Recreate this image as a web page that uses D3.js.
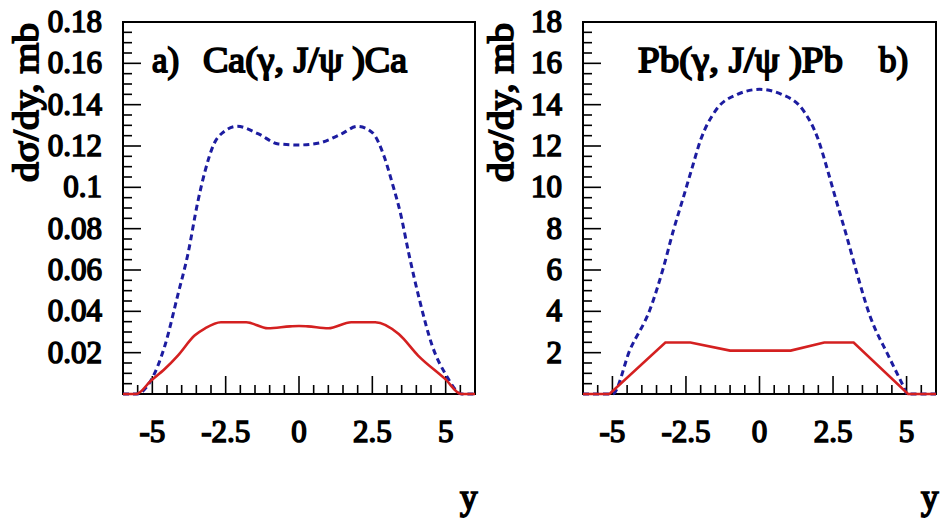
<!DOCTYPE html>
<html>
<head>
<meta charset="utf-8">
<script src="https://cdn.jsdelivr.net/npm/d3@7"></script>
<style>
  body { margin: 0; background: #fff; }
</style>
</head>
<body>
<svg></svg>
<script>
const width = 946;
const height = 522;
// only the regular serif face is available, so bold is faked with a thin stroke
const serif = "Liberation Serif";

// panel a) Ca
var caRapidity = [-6, -5.55, -5.05, -4.57, -4.13, -3.55, -3.2, -2.66, -1.8, -1.06, -0.3, 0, 0.3, 1.0, 1.78, 2.6, 3.4, 4.06, 4.98, 5.53, 6];
var caRed = [0, 0, 0.0064, 0.0122, 0.0186, 0.0284, 0.0318, 0.0347, 0.0347, 0.0318, 0.0327, 0.0329, 0.0327, 0.0318, 0.0347, 0.0347, 0.029, 0.0186, 0.0073, 0, 0];
var caBlueRapidity = [-6, -5.55, -5.05, -4.57, -4.13, -3.79, -3.45, -3.2, -2.9, -2.6, -2.1, -1.4, -0.7, 0, 0.7, 1.4, 2.0, 2.5, 2.9, 3.2, 3.45, 3.75, 4.1, 4.55, 5.0, 5.55, 6];
var caBlue = [0, 0, 0.0065, 0.0235, 0.048, 0.0675, 0.093, 0.108, 0.121, 0.1265, 0.1295, 0.126, 0.121, 0.1205, 0.1215, 0.1255, 0.1295, 0.1265, 0.115, 0.101, 0.088, 0.0675, 0.046, 0.023, 0.0095, 0, 0];

// panel b) Pb
var pbRedRapidity = [-6, -5.1, -3.2, -2.35, -1.0, 1.06, 2.2, 3.2, 5.05, 6];
var pbRed = [0, 0, 2.49, 2.49, 2.1, 2.1, 2.49, 2.49, 0, 0];
var pbBlueRapidity = [-6, -5.0, -4.4, -3.72, -3.28, -2.94, -2.6, -2.3, -2.0, -1.5, -0.75, 0, 0.75, 1.5, 2.0, 2.3, 2.6, 2.95, 3.3, 3.75, 4.4, 4.9, 5.02, 6];
var pbBlue = [0, 0, 2.15, 4.1, 6.05, 7.85, 9.46, 10.9, 12.3, 13.7, 14.5, 14.74, 14.5, 13.7, 12.3, 10.9, 9.4, 7.7, 5.9, 3.8, 1.8, 0.35, 0, 0];

var xTickLabels = [-5, -2.5, 0, 2.5, 5];
var caYTicks = [0.02, 0.04, 0.06, 0.08, 0.1, 0.12, 0.14, 0.16, 0.18];
var pbYTicks = [2, 4, 6, 8, 10, 12, 14, 16, 18];

var svg = d3.select("svg");
svg.attr("width", width);
svg.attr("height", height);

function zip(xs, ys) {
  return xs.map((x, i) => [x, ys[i]]);
}

function label(g, size) {
  return g.append("text")
    .attr("font-family", serif)
    .attr("font-size", size)
    .attr("fill", "#000")
    .attr("stroke", "#000")
    .attr("stroke-width", size * 0.05);
}

function drawPanel(p) {
  var xScale = d3.scaleLinear().domain([-6, 6]).range([p.left, p.right]);
  var yScale = d3.scaleLinear().domain([0, p.ymax]).range([394, 22]);
  var g = svg.append("g");

  // frame
  g.append("rect")
    .attr("x", p.left).attr("y", 22)
    .attr("width", p.right - p.left).attr("height", 394 - 22)
    .attr("fill", "none").attr("stroke", "#000").attr("stroke-width", 2);

  // y ticks, minor every quarter of a major step
  var yMinor = d3.range(0, p.ymax + 1e-9, p.ystep / 4);
  g.selectAll(".ytick")
    .data(yMinor)
    .enter()
    .append("line")
    .attr("x1", p.left)
    .attr("x2", (d, i) => p.left + (i % 4 == 0 ? 18 : 9))
    .attr("y1", d => yScale(d)).attr("y2", d => yScale(d))
    .attr("stroke", "#000").attr("stroke-width", 1.6);

  // x ticks
  var xMinor = d3.range(-5.5, 5.51, 0.5);
  g.selectAll(".xtick")
    .data(xMinor)
    .enter()
    .append("line")
    .attr("x1", d => xScale(d)).attr("x2", d => xScale(d))
    .attr("y1", 394)
    .attr("y2", d => 394 - (Math.abs(d / 2.5 - Math.round(d / 2.5)) < 1e-6 ? 18 : 9))
    .attr("stroke", "#000").attr("stroke-width", 1.6);

  p.yTicks.forEach(d => {
    label(g, 31)
      .attr("x", p.left - 21)
      .attr("y", yScale(d) + 10)
      .attr("text-anchor", "end")
      .text(p.fmt(d));
  });

  xTickLabels.forEach(d => {
    label(g, 31)
      .attr("x", xScale(d))
      .attr("y", 442)
      .attr("text-anchor", "middle")
      .text((d < 0 ? "-" : "") + Math.abs(d));
  });

  // axis titles
  label(g, 35)
    .attr("transform", 'translate(' + p.ylabelX + ',23) rotate(-90)')
    .attr("text-anchor", "end")
    .attr("textLength", 159)
    .attr("lengthAdjust", "spacingAndGlyphs")
    .text("d\u03c3/dy, mb");

  label(g, 35)
    .attr("x", p.right - 15).attr("y", 509)
    .text("y");

  // curves
  var line = d3.line()
    .x(d => xScale(d[0]))
    .y(d => yScale(d[1]));

  g.append("path")
    .attr("d", line.curve(d3.curveMonotoneX)(p.blue))
    .attr("fill", "none")
    .attr("stroke", "#1c1ca0")
    .attr("stroke-width", 3)
    .attr("stroke-dasharray", "6,4");

  g.append("path")
    .attr("d", line.curve(p.redCurve)(p.red))
    .attr("fill", "none")
    .attr("stroke", "#d42020")
    .attr("stroke-width", 2.6);

  return g;
}

var ga = drawPanel({
  left: 123, right: 475, ymax: 0.18, ystep: 0.02, yTicks: caYTicks,
  fmt: d => String(+d.toFixed(2)), ylabelX: 38,
  red: zip(caRapidity, caRed), blue: zip(caBlueRapidity, caBlue),
  redCurve: d3.curveMonotoneX
});

label(ga, 35).attr("x", 152).attr("y", 72).text("a)");
label(ga, 35).attr("x", 203).attr("y", 72)
  .attr("textLength", 204).attr("lengthAdjust", "spacingAndGlyphs")
  .text("Ca(\u03b3, J/\u03c8 )Ca");

var gb = drawPanel({
  left: 583, right: 936, ymax: 18, ystep: 2, yTicks: pbYTicks,
  fmt: d => String(d), ylabelX: 513,
  red: zip(pbRedRapidity, pbRed), blue: zip(pbBlueRapidity, pbBlue),
  redCurve: d3.curveLinear
});

label(gb, 35).attr("x", 638).attr("y", 72)
  .attr("textLength", 205).attr("lengthAdjust", "spacingAndGlyphs")
  .text("Pb(\u03b3, J/\u03c8 )Pb");
label(gb, 35).attr("x", 879).attr("y", 72).text("b)");
</script>
</body>
</html>
